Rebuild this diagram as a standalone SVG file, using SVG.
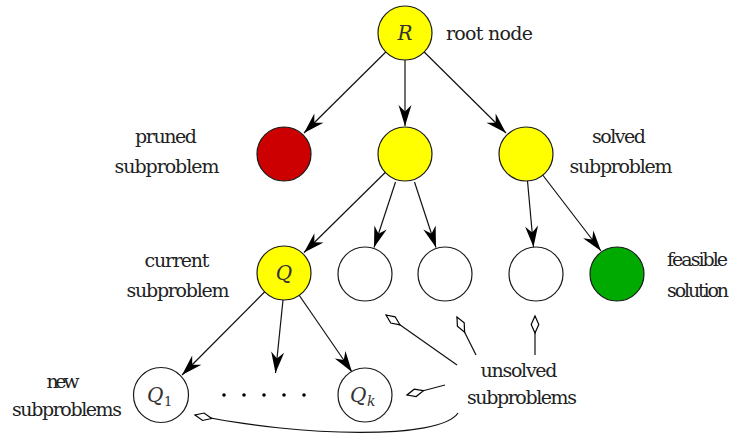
<svg xmlns="http://www.w3.org/2000/svg" width="736" height="436" viewBox="0 0 736 436">
<style>
.n{stroke:#1a1a1a;stroke-width:1.2}
.y{fill:#ffff00}.r{fill:#cc0000}.g{fill:#00aa00}.w{fill:#ffffff}
.t{font-family:"DejaVu Serif",serif;font-size:19px;fill:#222}
.m{font-family:"DejaVu Serif",serif;font-style:italic;font-size:20px;fill:#333}
.s{font-family:"DejaVu Serif",serif;font-size:13px;fill:#333}
.c{stroke:#111;stroke-width:1.2;fill:none}
</style>
<defs>
<marker id="st" markerUnits="userSpaceOnUse" orient="auto" markerWidth="40" markerHeight="40" refX="21" refY="8" overflow="visible">
<path d="M21,8 L0,1.5 L6.5,8 L0,14.5 z" fill="#000"/>
</marker>
<marker id="dm" markerUnits="userSpaceOnUse" orient="auto" markerWidth="40" markerHeight="40" refX="17" refY="4" overflow="visible">
<path d="M17,4 L8.5,0.2 L0,4 L8.5,7.8 z" fill="#fff" stroke="#000" stroke-width="1.2"/>
</marker>
</defs>
<g id="connectors">
<line class="c" marker-end="url(#st)" x1="385.8" y1="52" x2="304" y2="133"/>
<line class="c" marker-end="url(#st)" x1="405" y1="60" x2="405" y2="126"/>
<line class="c" marker-end="url(#st)" x1="424.2" y1="52" x2="506" y2="133"/>
<line class="c" marker-end="url(#st)" x1="385.7" y1="172" x2="304" y2="252.5"/>
<line class="c" marker-end="url(#st)" x1="395.5" y1="182" x2="374" y2="247.5"/>
<line class="c" marker-end="url(#st)" x1="414.5" y1="182" x2="436" y2="247.5"/>
<line class="c" marker-end="url(#st)" x1="527.5" y1="181" x2="533.5" y2="247"/>
<line class="c" marker-end="url(#st)" x1="542.3" y1="174.5" x2="601" y2="251"/>
<line class="c" marker-end="url(#st)" x1="265" y1="291.5" x2="182" y2="375"/>
<line class="c" marker-end="url(#st)" x1="283" y1="300" x2="275.5" y2="373"/>
<line class="c" marker-end="url(#st)" x1="299" y1="295" x2="352" y2="372"/>
<line class="c" marker-end="url(#dm)" x1="457" y1="365" x2="386" y2="315"/>
<line class="c" marker-end="url(#dm)" x1="476" y1="355" x2="457" y2="317"/>
<line class="c" marker-end="url(#dm)" x1="535" y1="355" x2="535" y2="316"/>
<line class="c" marker-end="url(#dm)" x1="445" y1="385" x2="407" y2="395"/>
<path class="c" marker-end="url(#dm)" d="M458,413 C440,440 300,437 195,415"/>
</g>
<g id="root"><circle class="n y" cx="405" cy="33" r="27"/><text class="m" x="405" y="40" text-anchor="middle">R</text></g>
<g id="pruned"><circle class="n r" cx="284" cy="154" r="27"/></g>
<g id="middle"><circle class="n y" cx="405" cy="154" r="27"/></g>
<g id="solved"><circle class="n y" cx="526" cy="154" r="27"/></g>
<g id="q"><circle class="n y" cx="284" cy="273" r="27"/><text class="m" x="284" y="280" text-anchor="middle">Q</text></g>
<g id="u1"><circle class="n w" cx="365" cy="274" r="27"/></g>
<g id="u2"><circle class="n w" cx="445" cy="274" r="27"/></g>
<g id="u3"><circle class="n w" cx="536" cy="274" r="27"/></g>
<g id="feasible"><circle class="n g" cx="617" cy="274" r="27"/></g>
<g id="q1"><circle class="n w" cx="161" cy="395" r="27.5"/><text class="m" x="147" y="402">Q</text><text class="s" x="164" y="406">1</text></g>
<g id="qk"><circle class="n w" cx="365" cy="395" r="27"/><text class="m" x="350" y="402">Q</text><text class="m" style="font-size:14px" x="367" y="406">k</text></g>
<g id="dots" fill="#000"><circle cx="224" cy="395" r="1.8"/><circle cx="244" cy="395" r="1.8"/><circle cx="264" cy="395" r="1.8"/><circle cx="284" cy="395" r="1.8"/><circle cx="304" cy="395" r="1.8"/></g>
<g id="labels">
<text class="t" x="446" y="40" textLength="87">root node</text>
<text class="t" x="166" y="143" text-anchor="middle" textLength="62">pruned</text>
<text class="t" x="167" y="173" text-anchor="middle" textLength="105">subproblem</text>
<text class="t" x="619" y="143" text-anchor="middle" textLength="54">solved</text>
<text class="t" x="621" y="173" text-anchor="middle" textLength="103">subproblem</text>
<text class="t" x="177" y="267" text-anchor="middle" textLength="65">current</text>
<text class="t" x="178" y="297" text-anchor="middle" textLength="103">subproblem</text>
<text class="t" x="667" y="266" textLength="61">feasible</text>
<text class="t" x="667" y="297" textLength="62">solution</text>
<text class="t" x="63" y="388" text-anchor="middle" textLength="33">new</text>
<text class="t" x="67" y="416" text-anchor="middle" textLength="110">subproblems</text>
<text class="t" x="519" y="377" text-anchor="middle" textLength="77">unsolved</text>
<text class="t" x="522" y="404" text-anchor="middle" textLength="110">subproblems</text>
</g>
</svg>
